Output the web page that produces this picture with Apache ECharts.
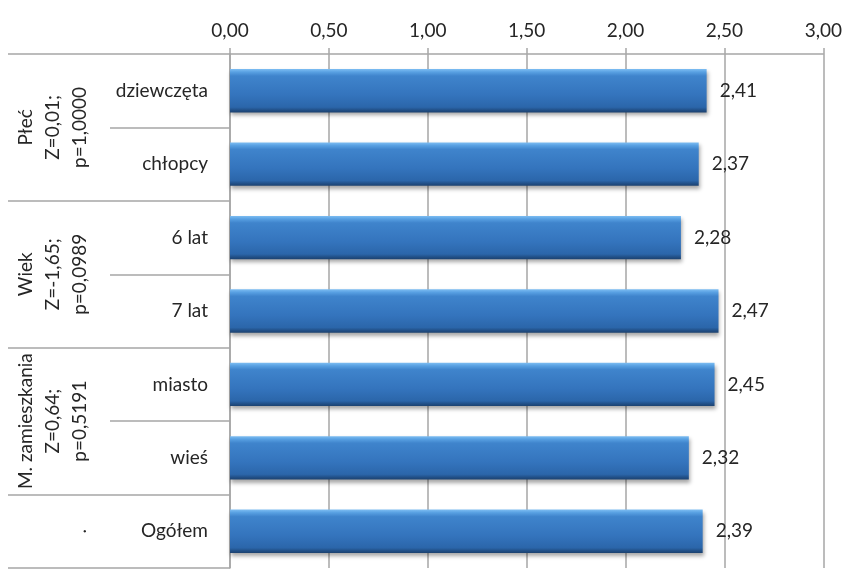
<!DOCTYPE html>
<html>
<head>
<meta charset="utf-8">
<script src="https://cdn.jsdelivr.net/npm/echarts@6/dist/echarts.min.js"></script>
<style>
html,body{margin:0;padding:0;background:#fff;}
#c{width:845px;height:571px;}
</style>
</head>
<body>
<div id="c"></div>
<script>
// ---- data ----
var categories = ['dziewczęta', 'chłopcy', '6 lat', '7 lat', 'miasto', 'wieś', 'Ogółem'];
var values = [2.41, 2.37, 2.28, 2.47, 2.45, 2.32, 2.39];
var groupLabels = ['Płeć\nZ=0,01;\np=1,0000', 'Wiek\nZ=-1,65;\np=0,0989', 'M. zamieszkania\nZ=0,64;\np=0,5191', '.'];
var groupSizes = [2, 2, 2, 1];
var xTicks = [0, 0.5, 1, 1.5, 2, 2.5, 3];

// ---- derived ----
var groupCenterMap = {};
var acc = 0;
groupSizes.forEach(function (s, i) {
  groupCenterMap[String(acc + s / 2)] = groupLabels[i];
  acc += s;
});
var nCat = categories.length;
function fmt(v) { return v.toFixed(2).replace('.', ','); }

var FONT = 'Lato';
var FS = 19;
var TXT = '#262626';
var GRAY = '#a6a6a6';

var chart = echarts.init(document.getElementById('c'));
chart.setOption({
  animation: false,
  backgroundColor: '#fff',
  grid: { left: 230, right: 21, top: 54, height: 521.5, containLabel: false },
  xAxis: {
    type: 'value', position: 'top',
    min: xTicks[0], max: xTicks[xTicks.length - 1], interval: 0.5,
    axisLine: { show: true, lineStyle: { color: GRAY, width: 1.5 } },
    axisTick: { show: true, length: 6, lineStyle: { color: GRAY, width: 1.5 } },
    splitLine: { show: true, lineStyle: { color: GRAY, width: 1.5 } },
    axisLabel: { formatter: fmt, color: TXT, fontFamily: FONT, fontSize: FS, margin: 14 }
  },
  yAxis: [
    {
      type: 'category', inverse: true, data: categories, position: 'left',
      axisLine: { show: true, lineStyle: { color: GRAY, width: 1.5 } },
      axisTick: { show: true, length: 120, lineStyle: { color: GRAY, width: 1.5 } },
      axisLabel: { color: TXT, fontFamily: FONT, fontSize: FS, margin: 22 },
      splitLine: { show: false }
    },
    {
      type: 'value', inverse: true, min: 0, max: nCat, interval: 2, position: 'left',
      axisLine: { show: false },
      axisTick: { show: true, length: 222, lineStyle: { color: GRAY, width: 1.5 } },
      axisLabel: { show: false },
      splitLine: { show: false }
    },
    {
      type: 'value', inverse: true, min: 0, max: nCat, interval: 0.5, position: 'left',
      offset: 140,
      axisLine: { show: false },
      axisTick: { show: false },
      splitLine: { show: false },
      axisLabel: {
        rotate: 90, margin: -3, color: TXT, fontFamily: FONT, fontSize: FS, lineHeight: 27,
        showMinLabel: true, showMaxLabel: true,
        formatter: function (v) { return groupCenterMap[String(v)] || ''; }
      }
    }
  ],
  series: [{
    type: 'bar',
    yAxisIndex: 0,
    data: values,
    barCategoryGap: '41%',
    itemStyle: {
      color: new echarts.graphic.LinearGradient(0, 0, 0, 1, [
        { offset: 0, color: '#7dbdf2' },
        { offset: 0.07, color: '#58a0e2' },
        { offset: 0.16, color: '#3f84cc' },
        { offset: 0.6, color: '#3474bd' },
        { offset: 0.88, color: '#2b66aa' },
        { offset: 0.95, color: '#214f86' },
        { offset: 1, color: '#1c4270' }
      ]),
      shadowBlur: 4,
      shadowColor: 'rgba(0,0,0,0.35)',
      shadowOffsetY: 3,
      shadowOffsetX: 1
    },
    label: {
      show: true, position: 'right', distance: 13,
      formatter: function (p) { return fmt(p.value); },
      color: TXT, fontFamily: FONT, fontSize: FS
    }
  }]
});
</script>
</body>
</html>
